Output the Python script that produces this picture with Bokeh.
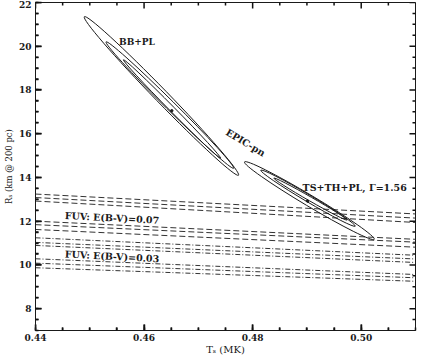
import math
from bokeh.plotting import figure
from bokeh.models import Range1d, SingleIntervalTicker
from bokeh.core.properties import value
from bokeh.embed import file_html
from bokeh.resources import INLINE

# ---------------- data ----------------
T_ENDS = [0.44, 0.51]
# FUV, E(B-V)=0.07 (dashed): R_s at T=0.44 and at T=0.51
fuv07_r_left = [13.24, 13.08, 12.92, 12.00, 11.84, 11.62]
fuv07_r_right = [12.33, 12.14, 11.94, 11.17, 11.04, 10.81]
# FUV, E(B-V)=0.03 (dash-dot)
fuv03_r_left = [11.24, 11.03, 10.89, 10.28, 10.08, 9.87]
fuv03_r_right = [10.44, 10.27, 10.11, 9.56, 9.41, 9.25]

# confidence contours: end points (T, R) of each elongated contour (outer, middle, inner)
bbpl_t_a = [0.4490, 0.4530, 0.4562]
bbpl_r_a = [21.35, 20.20, 19.38]
bbpl_t_b = [0.4774, 0.4765, 0.4741]
bbpl_r_b = [14.10, 14.42, 14.88]
bbpl_best = (0.4651, 17.05)

tsth_t_a = [0.4785, 0.4815, 0.4839]
tsth_r_a = [14.71, 14.33, 13.97]
tsth_t_b = [0.5024, 0.4989, 0.4974]
tsth_r_b = [11.17, 11.77, 12.05]
tsth_best = (0.4901, 12.92)

x_ticks = [0.44, 0.46, 0.48, 0.50]
x_minor_ticks = [0.445, 0.45, 0.455, 0.465, 0.47, 0.475, 0.485, 0.49, 0.495, 0.505]
y_ticks = [8, 10, 12, 14, 16, 18, 20, 22]
y_minor_ticks = [7.5, 8.5, 9, 9.5, 10.5, 11, 11.5, 12.5, 13, 13.5, 14.5, 15, 15.5,
                 16.5, 17, 17.5, 18.5, 19, 19.5, 20.5, 21, 21.5]

# ---------------- figure ----------------
FW, FH = 380, 328
XR = (0.44, 0.51)
YR = (7, 22)
SERIF = "DejaVu Serif"
INK = "#1a1a1a"

p = figure(frame_width=FW, frame_height=FH,
           x_range=Range1d(*XR), y_range=Range1d(*YR),
           output_backend="svg", toolbar_location=None,
           min_border_left=31, min_border_right=2,
           min_border_top=2, min_border_bottom=26,
           x_axis_label="Tₛ (MK)", y_axis_label="Rₛ (km @ 200 pc)")
p.xgrid.visible = False
p.ygrid.visible = False
p.outline_line_color = INK
p.background_fill_color = "white"
p.border_fill_color = "white"

for ax, interval in ((p.xaxis[0], 0.02), (p.yaxis[0], 2)):
    ax.ticker = SingleIntervalTicker(interval=interval, num_minor_ticks=4)
    ax.major_tick_in = 6
    ax.major_tick_out = 0
    ax.minor_tick_in = 3
    ax.minor_tick_out = 0
    ax.major_tick_line_color = "#111111"
    ax.minor_tick_line_color = "#111111"
    ax.major_tick_line_width = 1.5
    ax.minor_tick_line_width = 1.5
    ax.axis_line_color = INK
    ax.major_label_text_font = SERIF
    ax.major_label_text_font_size = "9px"
    ax.major_label_text_font_style = "bold"
    ax.major_label_text_color = INK
    ax.axis_label_text_font = SERIF
    ax.axis_label_text_font_style = "normal"
    ax.axis_label_text_color = INK

p.xaxis[0].axis_label_text_font_size = "10px"
p.yaxis[0].axis_label_text_font_size = "8.5px"
p.xaxis[0].major_label_standoff = 3
p.xaxis[0].axis_label_standoff = 0
p.yaxis[0].major_label_standoff = 4
p.yaxis[0].axis_label_standoff = 2
p.xaxis[0].major_label_overrides = {t: f"{t:.2f}" for t in x_ticks}

# inward ticks on all four sides (dash markers centred on the frame edge,
# the outer half is clipped by the frame)
TICK = "#111111"
for ticks, size in ((x_ticks, 12), (x_minor_ticks, 6)):
    for yedge in YR:
        p.scatter(ticks, [yedge] * len(ticks), marker="dash", size=size,
                  angle=math.pi / 2, line_color=TICK, line_width=1.5)
for ticks, size in ((y_ticks, 12), (y_minor_ticks, 6)):
    for xedge in XR:
        p.scatter([xedge] * len(ticks), ticks, marker="dash", size=size,
                  angle=0, line_color=TICK, line_width=1.5)

# ---------------- FUV lines ----------------
for rl, rr in zip(fuv07_r_left, fuv07_r_right):
    p.line(T_ENDS, [rl, rr], line_color="#333333", line_width=1, line_dash="6 3")
for rl, rr in zip(fuv03_r_left, fuv03_r_right):
    p.line(T_ENDS, [rl, rr], line_color="#333333", line_width=1, line_dash="5 2 1 2")

# ---------------- contours ----------------
sx = FW / (XR[1] - XR[0])
sy = FH / (YR[1] - YR[0])

def contours(ta, ra, tb, rb, minors):
    cx, cy, L, A = [], [], [], []
    for t1, r1, t2, r2 in zip(ta, ra, tb, rb):
        cx.append((t1 + t2) / 2)
        cy.append((r1 + r2) / 2)
        dx = (t2 - t1) * sx
        dy = (r2 - r1) * sy
        L.append(math.hypot(dx, dy))
        A.append(math.atan2(dy, dx))
    p.ellipse(x=cx, y=cy, width=L, height=minors, angle=A,
              width_units="screen", height_units="screen",
              fill_color=None, line_color=INK, line_width=1)

contours(bbpl_t_a, bbpl_r_a, bbpl_t_b, bbpl_r_b, [13, 9, 5])
contours(tsth_t_a, tsth_r_a, tsth_t_b, tsth_r_b, [11, 7, 4])

p.scatter([bbpl_best[0], tsth_best[0]], [bbpl_best[1], tsth_best[1]],
          size=2.5, color=INK)

# ---------------- annotations ----------------
def label(x, y, txt, angle=0.0, align="left", baseline="alphabetic", size="9.5px"):
    p.text(x=[x], y=[y], text=[txt], angle=angle,
           text_font=value(SERIF), text_font_style="bold",
           text_font_size=size, text_color=INK,
           text_align=align, text_baseline=baseline)

label(0.4554, 20.20, "BB+PL", size="9px")
label(0.4787, 15.60, "EPIC-pn", angle=-0.54, align="center", baseline="middle")
label(0.4892, 13.55, "TS+TH+PL, Γ=1.56")
label(0.4541, 12.15, "FUV: E(B-V)=0.07", angle=-0.05, align="center", baseline="middle")
label(0.4541, 10.39, "FUV: E(B-V)=0.03", angle=-0.05, align="center", baseline="middle")

open("out.html", "w").write(file_html(p, INLINE))
